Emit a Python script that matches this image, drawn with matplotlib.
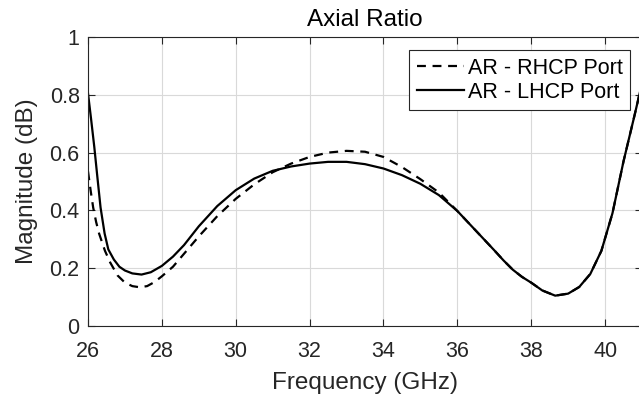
import matplotlib
matplotlib.use('Agg')
import matplotlib.pyplot as plt

# values
f_lhcp = [26.00, 26.08, 26.17, 26.25, 26.34, 26.45, 26.55, 26.7, 26.85, 27.0, 27.2, 27.45,
          27.7, 28.0, 28.3, 28.6, 29.0, 29.5, 30.0, 30.5, 31.0, 31.5, 32.0, 32.5, 33.0,
          33.5, 34.0, 34.5, 35.0, 35.5, 36.0, 36.5, 37.0, 37.25, 37.5, 37.75, 38.0, 38.3,
          38.65, 39.0, 39.3, 39.6, 39.9, 40.2, 40.5, 40.8, 41.0]
ar_lhcp = [0.805, 0.72, 0.62, 0.52, 0.41, 0.32, 0.265, 0.23, 0.205, 0.192, 0.182, 0.178,
           0.186, 0.208, 0.24, 0.28, 0.345, 0.415, 0.47, 0.51, 0.537, 0.552, 0.562, 0.568, 0.568,
           0.56, 0.545, 0.522, 0.492, 0.453, 0.398, 0.33, 0.262, 0.227, 0.195, 0.17, 0.15, 0.123,
           0.105, 0.112, 0.135, 0.18, 0.26, 0.39, 0.57, 0.73, 0.84]

f_rhcp = [26.00, 26.07, 26.14, 26.22, 26.30, 26.46, 26.6, 26.8, 27.0, 27.2, 27.4, 27.6,
          27.8, 28.0, 28.3, 28.6, 29.0, 29.5, 30.0, 30.5, 31.0, 31.5, 32.0, 32.5, 33.0,
          33.5, 34.0, 34.5, 35.0, 35.5, 36.0, 36.5, 37.0, 37.25, 37.5, 37.75, 38.0, 38.3,
          38.65, 39.0, 39.3, 39.6, 39.9, 40.2, 40.5, 40.8, 41.0]
ar_rhcp = [0.535, 0.47, 0.41, 0.36, 0.32, 0.26, 0.22, 0.175, 0.15, 0.138, 0.134, 0.138,
           0.152, 0.172, 0.205, 0.25, 0.31, 0.38, 0.44, 0.49, 0.532, 0.562, 0.585, 0.6, 0.606,
           0.603, 0.585, 0.55, 0.508, 0.462, 0.398, 0.33, 0.262, 0.227, 0.195, 0.17, 0.15, 0.123,
           0.105, 0.112, 0.135, 0.18, 0.26, 0.39, 0.57, 0.73, 0.84]

xticks = [26, 28, 30, 32, 34, 36, 38, 40]
yticks = [0, 0.2, 0.4, 0.6, 0.8, 1]
yticklabels = ['0', '0.2', '0.4', '0.6', '0.8', '1']

plt.rcParams['font.family'] = ['Liberation Sans', 'DejaVu Sans']

axc = '#262626'
fig = plt.figure(figsize=(6.39, 4.04), dpi=100)
ax = fig.add_axes([88/639, 78/404, 554/639, 289/404])

ax.plot(f_rhcp, ar_rhcp, color='black', lw=1.6, ls=(0, (4, 3)), label='AR - RHCP Port')
ax.plot(f_lhcp, ar_lhcp, color='black', lw=1.6, label='AR - LHCP Port')

ax.set_xlim(26, 41)
ax.set_ylim(0, 1)
ax.set_xticks(xticks)
ax.set_yticks(yticks)
ax.set_yticklabels(yticklabels)
ax.grid(True, color='#d9d9d9', lw=0.8)
ax.tick_params(direction='in', top=True, right=True, length=5, width=0.8,
               colors=axc, labelsize=15.5, labelcolor=axc)
ax.tick_params(axis='x', pad=11)
ax.tick_params(axis='y', pad=6)
for s in ax.spines.values():
    s.set_color(axc)
    s.set_linewidth(0.8)

ax.set_xlabel('Frequency (GHz)', fontsize=17.5, color=axc, labelpad=7)
ax.set_ylabel('Magnitude (dB)', fontsize=17.5, color=axc, labelpad=8)
ax.set_title('Axial Ratio', fontsize=17.5, color='black', pad=8)

leg = ax.legend(loc='upper right', bbox_to_anchor=(630/639, 1 - 50/404),
                bbox_transform=fig.transFigure, borderaxespad=0, fontsize=15.5,
                handlelength=2.2, handletextpad=0.15, borderpad=0.35, labelspacing=0.15,
                fancybox=False, framealpha=1, edgecolor=axc)
leg.get_frame().set_linewidth(0.8)

fig.savefig('out.png', dpi=100)
